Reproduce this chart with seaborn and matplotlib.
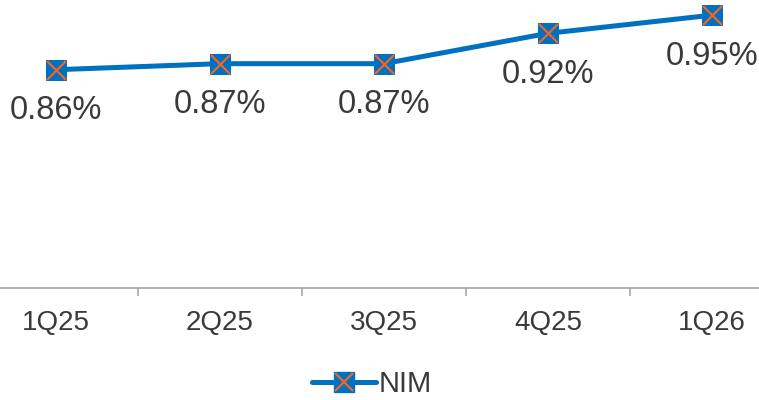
import numpy as np
import pandas as pd
import seaborn as sns
from matplotlib import pyplot as plt
from matplotlib.legend_handler import HandlerTuple
from matplotlib.ticker import FixedLocator

quarters = ["1Q25", "2Q25", "3Q25", "4Q25", "1Q26"]
nim = [0.86, 0.87, 0.87, 0.92, 0.95]

df = pd.DataFrame({"quarter": quarters, "nim": nim})

sns.set_style("white")
plt.rcParams['font.family'] = ['Liberation Sans', 'DejaVu Sans']

blue = "#0070C0"
orange = "#F26522"
txt = "#3a3a3a"

fig = plt.figure(figsize=(7.59, 4), dpi=100)
ax = fig.add_axes([0, 0.28, 1, 0.72])

sns.lineplot(data=df, x="quarter", y="nim", ax=ax, color=blue, linewidth=3.6,
             marker="s", markersize=14, markeredgecolor=blue, markerfacecolor=blue,
             zorder=3)
sns.scatterplot(data=df, x="quarter", y="nim", ax=ax, marker="x", s=185,
                color=orange, linewidth=1.6, zorder=4)

for i, v in enumerate(nim):
    ax.annotate(f"{v:.2f}%", (i, v), xytext=(0, -29.5), textcoords="offset points",
                ha="center", va="center", fontsize=23.5, color=txt)

ax.set_xlim(-0.341, 4.287)
ax.set_ylim(0.5, 0.975)

for s in ["top", "right", "left"]:
    ax.spines[s].set_visible(False)
ax.spines["bottom"].set_color("#a6a6a6")
ax.spines["bottom"].set_linewidth(1.2)

ax.set_yticks([])
ax.set_xlabel("")
ax.set_ylabel("")
ax.xaxis.set_minor_locator(FixedLocator(np.arange(len(quarters) + 1) - 0.5))
ax.tick_params(axis="x", which="major", length=0, labelsize=20, labelcolor=txt, pad=16)
ax.tick_params(axis="x", which="minor", length=6, width=1.2, color="#a6a6a6", direction="out",
               bottom=True)

h_line = plt.Line2D([], [], color=blue, linewidth=3.6, marker="s", markersize=14,
                    markerfacecolor=blue, markeredgecolor=blue)
h_x = plt.Line2D([], [], color=orange, linestyle="none", marker="x", markersize=13,
                 markeredgewidth=1.6)
fig.legend([(h_line, h_x)], ["NIM"], handler_map={tuple: HandlerTuple(ndivide=1)},
           loc="center", bbox_to_anchor=(0.49, 0.04), frameon=False, fontsize=21,
           labelcolor=txt, handlelength=2.2, handletextpad=0.1)

fig.savefig("out.png", dpi=100)
